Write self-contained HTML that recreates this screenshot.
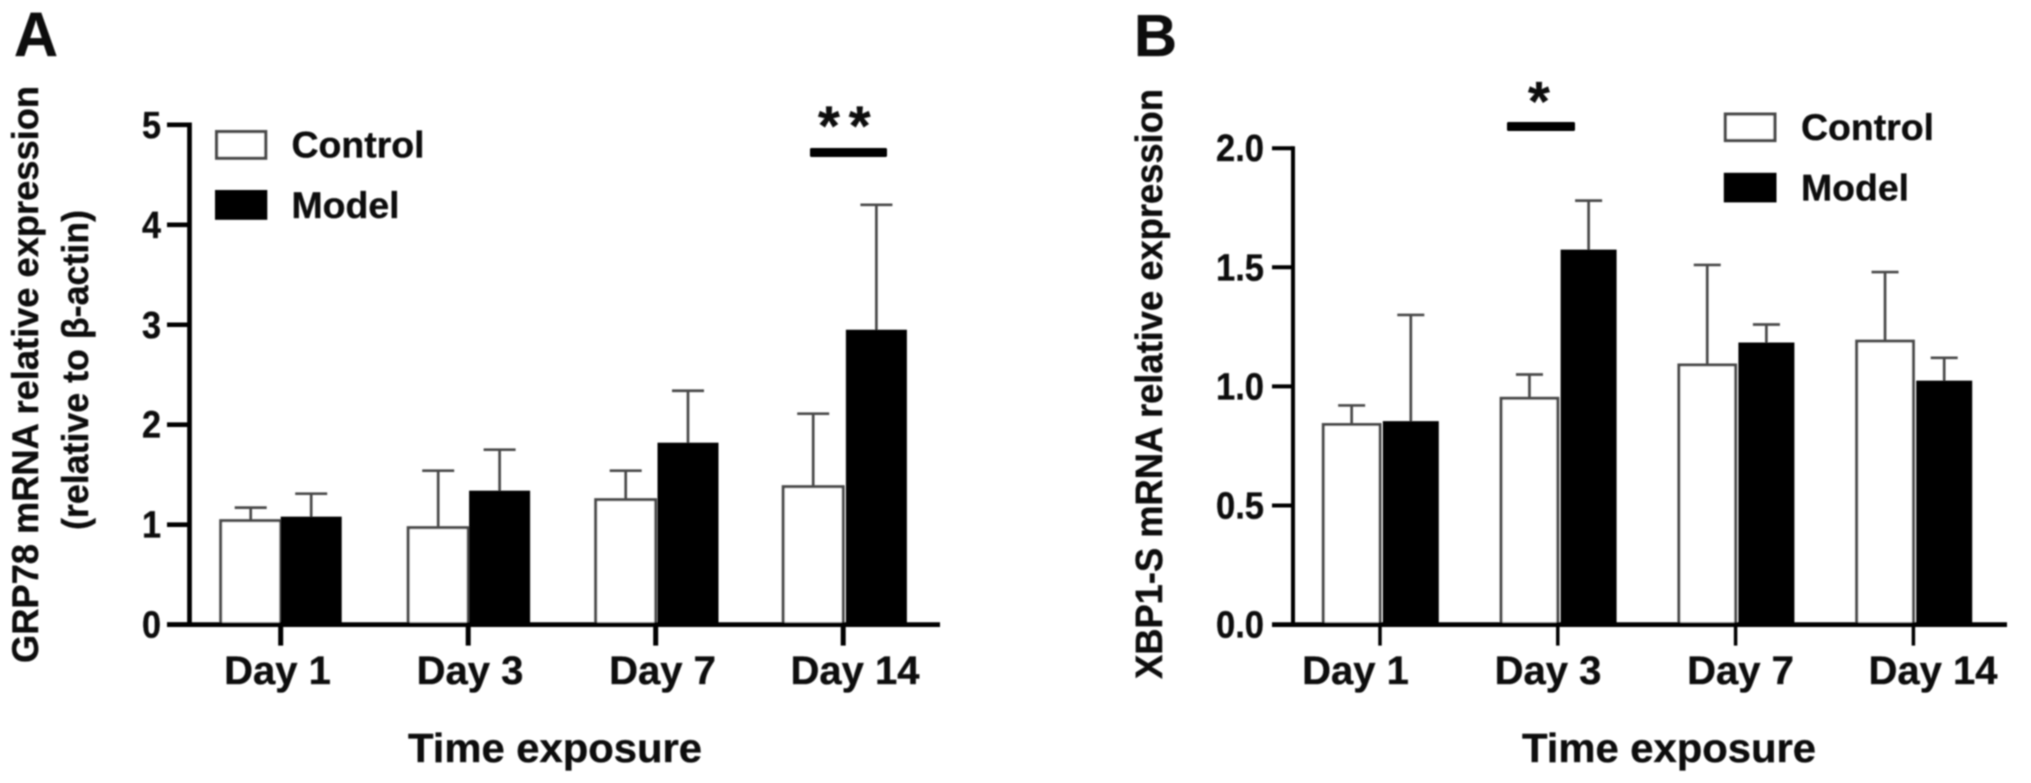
<!DOCTYPE html>
<html>
<head>
<meta charset="utf-8">
<title>GRP78 and XBP1-S mRNA relative expression</title>
<style>
html,body{margin:0;padding:0;background:#fff;width:2031px;height:783px;overflow:hidden}
svg{display:block}
text{font-family:"Liberation Sans",Arial,sans-serif;font-weight:700;fill:#0c0c0c;stroke:#0c0c0c;stroke-width:0.35}
</style>
</head>
<body>
<svg id="figure" xmlns="http://www.w3.org/2000/svg" width="2031" height="783" viewBox="0 0 2031 783">
  <defs><filter id="soft" x="-2%" y="-2%" width="104%" height="104%"><feGaussianBlur stdDeviation="0.85"/></filter></defs>
  <g id="root" filter="url(#soft)"></g>
</svg>
<script>
var categories = ['Day 1', 'Day 3', 'Day 7', 'Day 14'];
var legendLabels = ['Control', 'Model'];

var ticksA = [0, 1, 2, 3, 4, 5];
var tickLabelsA = ['0', '1', '2', '3', '4', '5'];
var controlA = [1.04, 0.97, 1.25, 1.38];
var controlUpperA = [1.17, 1.54, 1.54, 2.11];
var modelA = [1.07, 1.33, 1.81, 2.94];
var modelUpperA = [1.31, 1.75, 2.34, 4.20];

var ticksB = [0, 0.5, 1, 1.5, 2];
var tickLabelsB = ['0.0', '0.5', '1.0', '1.5', '2.0'];
var controlB = [0.84, 0.95, 1.09, 1.19];
var controlUpperB = [0.92, 1.05, 1.51, 1.48];
var modelB = [0.85, 1.57, 1.18, 1.02];
var modelUpperB = [1.30, 1.78, 1.26, 1.12];

var SVGNS = 'http://www.w3.org/2000/svg';
var root = document.getElementById('root');
var GREY = '#4a4a4a';

function shape(tag, props) {
  var el = document.createElementNS(SVGNS, tag);
  for (var k in props) { el.setAttribute(k, props[k]); }
  root.appendChild(el);
  return el;
}
function line(x1, y1, x2, y2, w, color) {
  return shape('line', {x1: x1, y1: y1, x2: x2, y2: y2, stroke: color, 'stroke-width': w});
}
function label(str, x, y, size, anchor, length, rotate) {
  var props = {x: x, y: y, 'font-size': size, 'text-anchor': anchor || 'start'};
  if (length) { props.textLength = length; props.lengthAdjust = 'spacingAndGlyphs'; }
  if (rotate) { props.transform = 'rotate(-90 ' + x + ' ' + y + ')'; }
  var el = shape('text', props);
  el.textContent = str;
  return el;
}

function drawPanel(p) {
  function yScale(v) { return p.yZero - v * p.yUnit; }
  function xTick(i) { return p.tick0 + i * p.tickStep; }
  function xLabel(i) { return p.label0 + i * p.labelStep; }
  var el, i;

  for (i = 0; i < categories.length; i++) {
    var cx = xTick(i);
    var ctrlX = cx - p.ctrlW;
    var modelX = cx + p.modelShift + i * p.modelDrift;
    var ctrlMid = ctrlX + p.ctrlW / 2;
    var modelMid = modelX + p.modelW / 2;

    el = line(ctrlMid, yScale(p.control[i]), ctrlMid, yScale(p.controlUpper[i]), 2.7, GREY);
    
    
    el = line(ctrlMid - p.cap, yScale(p.controlUpper[i]), ctrlMid + p.cap, yScale(p.controlUpper[i]), 2.7, GREY);
    
    

    el = line(modelMid, yScale(p.model[i]), modelMid, yScale(p.modelUpper[i]), 2.7, GREY);
    
    
    el = line(modelMid - p.cap, yScale(p.modelUpper[i]), modelMid + p.cap, yScale(p.modelUpper[i]), 2.7, GREY);
    
    

    el = shape('rect', {x: ctrlX, y: yScale(p.control[i]), width: p.ctrlW, height: p.yZero - yScale(p.control[i]), fill: '#fff', stroke: GREY, 'stroke-width': 3});
    
    
    el = shape('rect', {x: modelX, y: yScale(p.model[i]) - 1, width: p.modelW, height: p.yZero - yScale(p.model[i]) + 1, fill: '#000'});
    
    

    el = line(cx, p.yZero, cx, p.yZero + 21, p.xTickW, '#000');
    
    
    el = label(categories[i], xLabel(i), 684, 40, 'middle');
    
    
  }

  for (i = 0; i < p.ticks.length; i++) {
    el = line(p.tickLeft, yScale(p.ticks[i]), p.axisX, yScale(p.ticks[i]), p.yTickW, '#000');
    
    
    el = label(p.tickLabels[i], p.tickLabelRight, yScale(p.ticks[i]) + 13, 38, 'end', p.tickLabelLen);
    
    
  }

  el = line(p.axisX, yScale(p.ticks[p.ticks.length - 1]) - p.yTickW / 2, p.axisX, p.yZero + 2, p.yAxisW, '#000');
  
  
  el = line(p.tickLeft, p.yZero, p.axisEnd, p.yZero, 4.7, '#000');
  
  

  el = shape('rect', {x: p.legendX + 1.6, y: p.legendY[0] + 1.6, width: p.legendW - 3.2, height: p.legendH - 3.2, fill: '#fff', stroke: GREY, 'stroke-width': 3.2});
  
  
  el = shape('rect', {x: p.legendX, y: p.legendY[1], width: p.legendW, height: p.legendH, fill: '#000'});
  
  
  el = label(legendLabels[0], p.legendTextX, p.legendBase[0], 37.5, 'start', 133);
  
  
  el = label(legendLabels[1], p.legendTextX, p.legendBase[1], 37.5, 'start', 108);
  
  

  el = shape('rect', {x: p.sigX1, y: p.sigY - 4.5, width: p.sigX2 - p.sigX1, height: 9, rx: 1.5, fill: '#000'});
  
  
  el = label(p.sigText, p.starX, p.starBase, 56, 'start');
  el.setAttribute('letter-spacing', '9');
  
  

  el = label('Time exposure', p.xTitleX, 762, 41, 'middle', 294);
  
  
  el = label(p.panel, p.panelX, 56, p.panelSize, 'start', p.panelW);
  
  
}

drawPanel({
  id: 'panel-a', panel: 'A', panelX: 14, panelW: 44, panelSize: 63,
  control: controlA, controlUpper: controlUpperA, model: modelA, modelUpper: modelUpperA,
  ticks: ticksA, tickLabels: tickLabelsA, tickLabelRight: 161, tickLabelLen: 19,
  yZero: 624.6, yUnit: 99.95, axisX: 189.5, tickLeft: 167, axisEnd: 940,
  yAxisW: 4.7, yTickW: 4.6, xTickW: 5,
  tick0: 280.7, tickStep: 187.5, label0: 277.5, labelStep: 192.5,
  ctrlW: 60, modelW: 61, cap: 16, modelShift: 0, modelDrift: 0.9,
  legendX: 215, legendY: [130, 190], legendW: 52.3, legendH: 29.8, legendTextX: 291.5, legendBase: [157.5, 218],
  sigX1: 810, sigX2: 887, sigY: 152.5, sigText: '**', starX: 818, starBase: 145,
  xTitleX: 555
});
drawPanel({
  id: 'panel-b', panel: 'B', panelX: 1134, panelW: 43, panelSize: 59,
  control: controlB, controlUpper: controlUpperB, model: modelB, modelUpper: modelUpperB,
  ticks: ticksB, tickLabels: tickLabelsB, tickLabelRight: 1264, tickLabelLen: 48,
  yZero: 624.6, yUnit: 238.2, axisX: 1293, tickLeft: 1272, axisEnd: 2007,
  yAxisW: 4, yTickW: 4, xTickW: 3.5,
  tick0: 1380, tickStep: 177.8, label0: 1355.5, labelStep: 192.5,
  ctrlW: 56.7, modelW: 56, cap: 13.5, modelShift: 2.8, modelDrift: 0,
  legendX: 1723.8, legendY: [112.5, 172.8], legendW: 52.7, legendH: 29.6, legendTextX: 1801, legendBase: [140, 200.7],
  sigX1: 1507, sigX2: 1575, sigY: 126.5, sigText: '*', starX: 1528, starBase: 120.5,
  xTitleX: 1669
});

var t;
t = label('GRP78 mRNA relative expression', 38, 663, 37.5, 'start', 577, true);


t = label('(relative to β-actin)', 88, 530, 37.5, 'start', 320, true);


t = label('XBP1-S mRNA relative expression', 1162, 679, 38, 'start', 590, true);


</script>
</body>
</html>
